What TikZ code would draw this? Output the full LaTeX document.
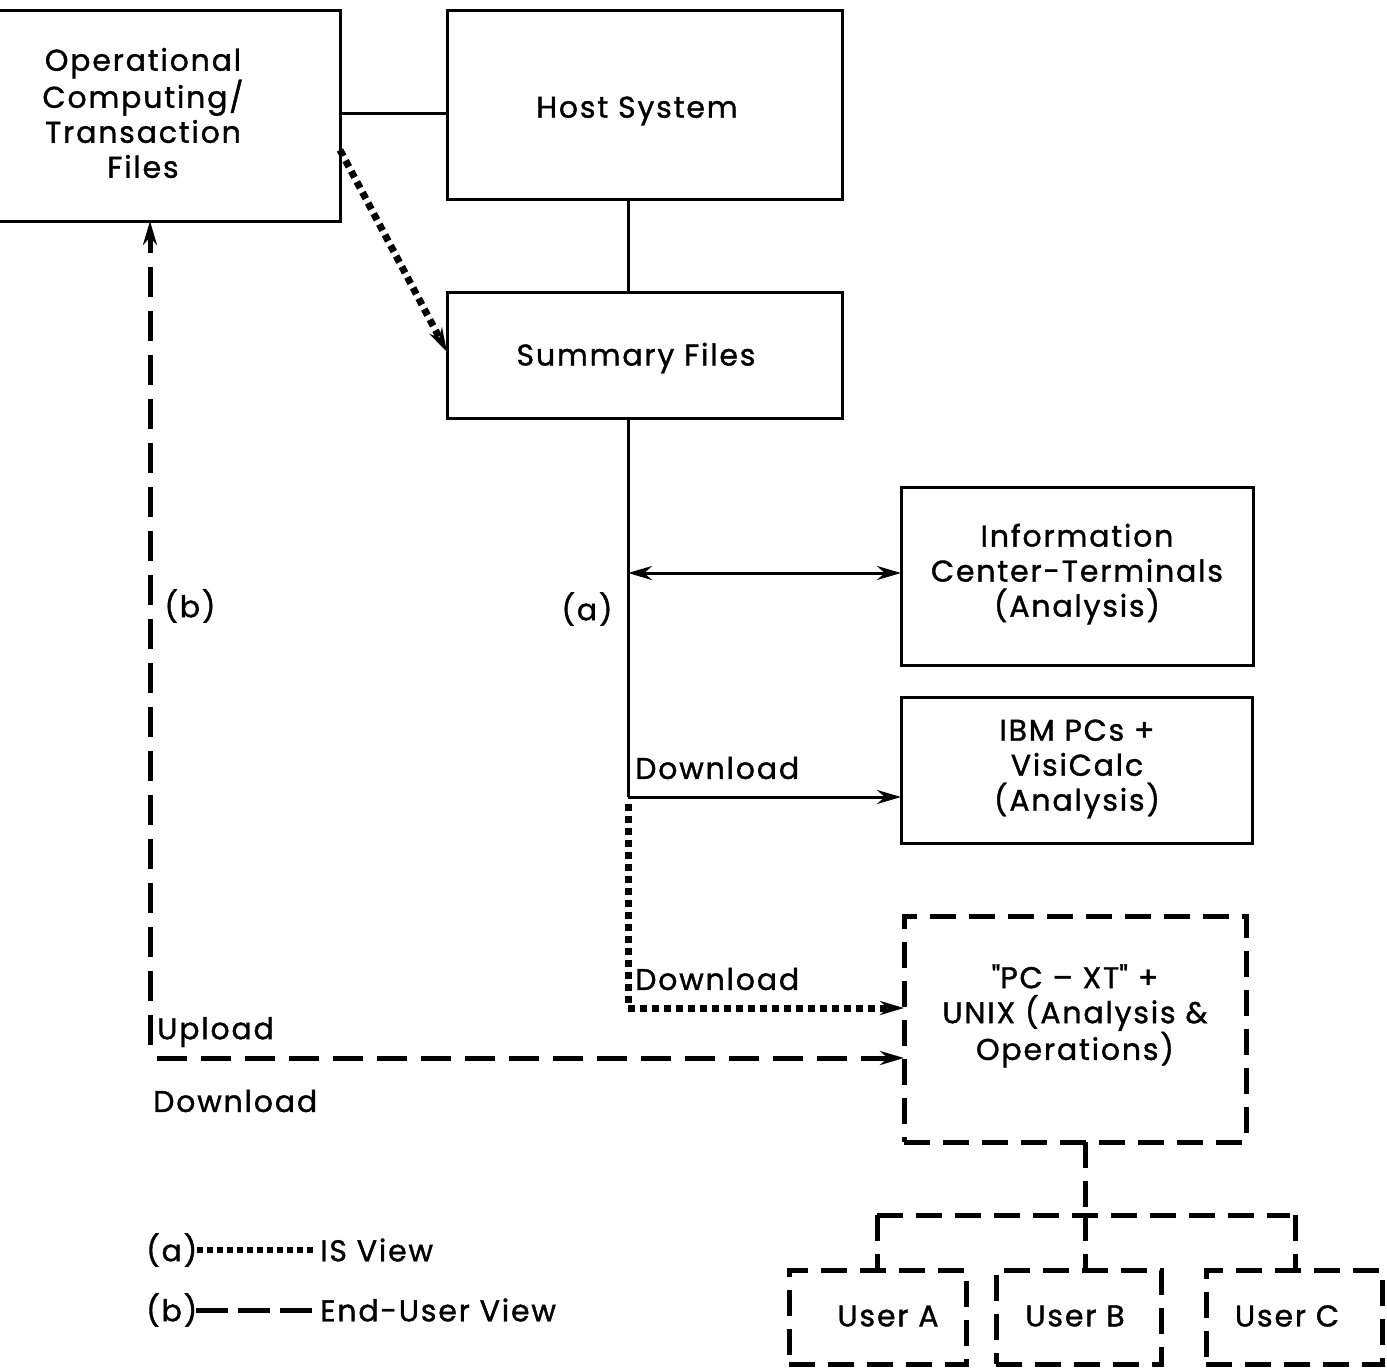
\documentclass[tikz,border=0pt]{standalone}
\usepackage{fontspec}
\setmainfont{Poppins}[LetterSpace=6,FakeBold=1.2]
\usetikzlibrary{arrows.meta}
\begin{document}
\begin{tikzpicture}[x=1pt,y=-1pt,
  solidbox/.style={draw, line width=3pt, inner sep=0pt, outer sep=0pt},
  dashbox/.style={draw, line width=5pt, dash pattern=on 26pt off 13pt, inner sep=0pt, outer sep=0pt},
  lbl/.style={font=\fontsize{30}{35}\selectfont, align=center, inner sep=0pt},
  conn/.style={line width=3pt},
  tip/.style={-{Stealth[length=24pt,width=14pt]}},
  dotline/.style={line width=7pt, dash pattern=on 7pt off 5pt},
  dashline/.style={line width=5pt, dash pattern=on 30pt off 14pt},
]
\useasboundingbox (0,0) rectangle (1387,1369);
\fill[white] (0,0) rectangle (1387,1369);

% boxes
\node[solidbox, minimum width=394pt, minimum height=211pt] (op) at (143,115.5) {};
\node[lbl] (optxt) at (143,113) {Operational\\Computing/\\Transaction\\Files};
\node[solidbox, minimum width=395pt, minimum height=189pt] (host) at (644.5,104.5) {};
\node[lbl] (hosttxt) at (637,111) {Host System};
\node[solidbox, minimum width=395pt, minimum height=126pt] (sum) at (644.5,355) {};
\node[lbl] (sumtxt) at (636,358) {Summary Files};
\node[solidbox, minimum width=352pt, minimum height=178pt] (info) at (1077,576) {};
\node[lbl] (infotxt) at (1077,574) {Information\\Center-Terminals\\(Analysis)};
\node[solidbox, minimum width=351pt, minimum height=146pt] (ibm) at (1076.5,770) {};
\node[lbl] (ibmtxt) at (1077,769) {IBM PCs +\\VisiCalc\\(Analysis)};
\node[dashbox, minimum width=342pt, minimum height=226pt] (pc) at (1075,1029) {};
\node[lbl] (pctxt) at (1075,1016) {\textquotedbl PC – XT\textquotedbl{} +\\UNIX (Analysis \&\\Operations)};
\node[dashbox, minimum width=177pt, minimum height=94pt] (ua) at (877.5,1317) {};
\node[lbl] (uatxt) at (888,1316) {User A};
\node[dashbox, minimum width=165pt, minimum height=94pt] (ub) at (1078.5,1317) {};
\node[lbl] (ubtxt) at (1075,1316) {User B};
\node[dashbox, minimum width=176pt, minimum height=94pt] (uc) at (1294,1317) {};
\node[lbl] (uctxt) at (1287,1316) {User C};

% solid connectors
\draw[conn] (op.east |- 0,113) -- (host.west |- 0,113);
\draw[conn] (host.south -| 628,0) -- (sum.north -| 628,0);
\coordinate (trunkend) at (628,797);
\draw[conn] (sum.south -| 628,0) -- (trunkend);
\coordinate (ib) at (628,573);
\draw[conn, {Stealth[length=24pt,width=14pt]}-{Stealth[length=24pt,width=14pt]}] (ib) -- (info.west |- ib);
\draw[conn, tip] (trunkend) -- (ibm.west |- trunkend);

% dotted (IS view)
\coordinate (dc) at (628,1008);
\draw[dotline] (628,804) -- (dc);
\draw[dotline, tip] (dc) -- (pc.west |- dc);
\draw[dotline, tip] (op.east |- 0,150) -- (sum.west |- 0,352);

% dashed (end-user view)
\coordinate (uc0) at (150,1058);
\draw[dashline, tip] (150,1045) -- (op.south -| uc0);
\draw[dashline, tip] (157,1058) -- (pc.west |- uc0);

% user tree
\coordinate (tj) at (1085,1215);
\draw[dashbox] (pc.south -| tj) -- (tj);
\draw[dashbox] (877,1215) -- (1290,1215);
\draw[dashbox] (877,1215) -- (ua.north -| 877,0);
\draw[dashbox] (tj) -- (ub.north -| tj);
\draw[dashbox] (1295,1215) -- (uc.north -| 1295,0);

% labels
\node[lbl, anchor=center] (la) at (587,609) {(a)};
\node[lbl, anchor=center] (lb) at (190,606) {(b)};
\node[lbl, anchor=west] (dl1) at (635,768) {Download};
\node[lbl, anchor=west] (dl2) at (635,979) {Download};
\node[lbl, anchor=west] (ul) at (157,1032) {Upload};
\node[lbl, anchor=west] (dl3) at (153,1101) {Download};

% legend
\node[lbl, anchor=west] (lga) at (146,1250) {(a)};
\coordinate (lga1) at (197,1250);
\coordinate (lga2) at (314,1250);
\draw[line width=6pt, dash pattern=on 6pt off 4pt] (lga1) -- (lga2);
\node[lbl, anchor=west] (lgat) at (320,1250) {IS View};
\node[lbl, anchor=west] (lgb) at (146,1310) {(b)};
\coordinate (lgb1) at (196,1310);
\coordinate (lgb2) at (314,1310);
\draw[line width=5pt, dash pattern=on 32pt off 10pt] (lgb1) -- (lgb2);
\node[lbl, anchor=west] (lgbt) at (320,1310) {End-User View};
\end{tikzpicture}
\end{document}
